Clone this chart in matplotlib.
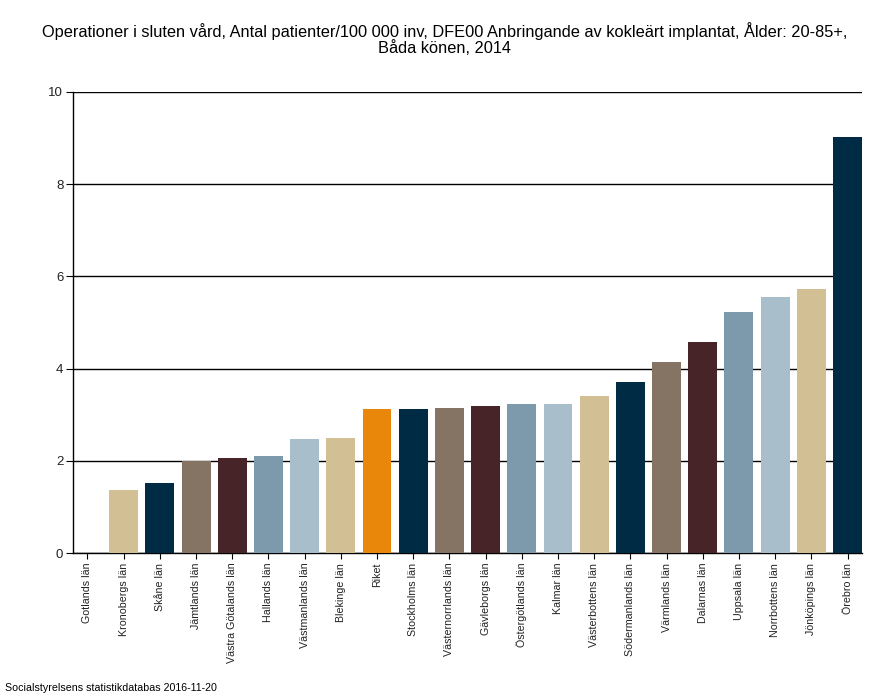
import matplotlib
matplotlib.use("Agg")
import matplotlib.pyplot as plt

plt.rcParams['font.family'] = ['Liberation Sans', 'DejaVu Sans']

categories = ["Gotlands län", "Kronobergs län", "Skåne län", "Jämtlands län",
              "Västra Götalands län", "Hallands län", "Västmanlands län",
              "Blekinge län", "Riket", "Stockholms län", "Västernorrlands län",
              "Gävleborgs län", "Östergötlands län", "Kalmar län",
              "Västerbottens län", "Södermanlands län", "Värmlands län",
              "Dalarnas län", "Uppsala län", "Norrbottens län",
              "Jönköpings län", "Örebro län"]
values = [0.0, 1.37, 1.52, 2.0, 2.06, 2.10, 2.47, 2.50, 3.12, 3.12, 3.15,
          3.19, 3.23, 3.23, 3.41, 3.71, 4.14, 4.58, 5.23, 5.55, 5.73, 9.02]
y_ticks = [0, 2, 4, 6, 8, 10]

palette = ["#A8BECA", "#D2BF94", "#002B45", "#857463", "#472427", "#7D9AAC"]
highlight = "#E8870A"

colors = []
k = 0
for c in categories:
    if c == "Riket":
        colors.append(highlight)
    else:
        colors.append(palette[k % len(palette)])
        k += 1

fig = plt.figure(figsize=(8.9, 7.0), dpi=100)
ax = fig.add_axes([73/890, 1-553/700, (862-73)/890, (553-92)/700])

x = list(range(len(categories)))
ax.bar(x, values, width=0.8, color=colors, linewidth=0, zorder=3)

ax.set_xlim(-0.4, len(categories) - 0.6)
ax.set_ylim(0, 10)
ax.set_yticks(y_ticks)
ax.set_yticklabels([str(t) for t in y_ticks], fontsize=9.5, color="#222222")
ax.yaxis.grid(True, color="black", linewidth=1.0, zorder=1)
ax.set_xticks(x)
ax.set_xticklabels(categories, rotation=90, fontsize=7.7, color="#222222")
ax.tick_params(axis='x', length=4, width=0.8, pad=3)
ax.tick_params(axis='y', length=5, width=0.8, pad=2)
for s in ["top", "right"]:
    ax.spines[s].set_visible(False)
for s in ["left", "bottom"]:
    ax.spines[s].set_linewidth(1.0)

fig.text(0.5, 1-39/700,
         "Operationer i sluten vård, Antal patienter/100 000 inv, DFE00 Anbringande av kokleärt implantat, Ålder: 20-85+,\nBåda könen, 2014",
         ha="center", va="center", fontsize=11.8, linespacing=1.05)
fig.text(5/890, 1-688/700, "Socialstyrelsens statistikdatabas 2016-11-20",
         ha="left", va="center", fontsize=7.7)

fig.savefig("out.png", dpi=100)
